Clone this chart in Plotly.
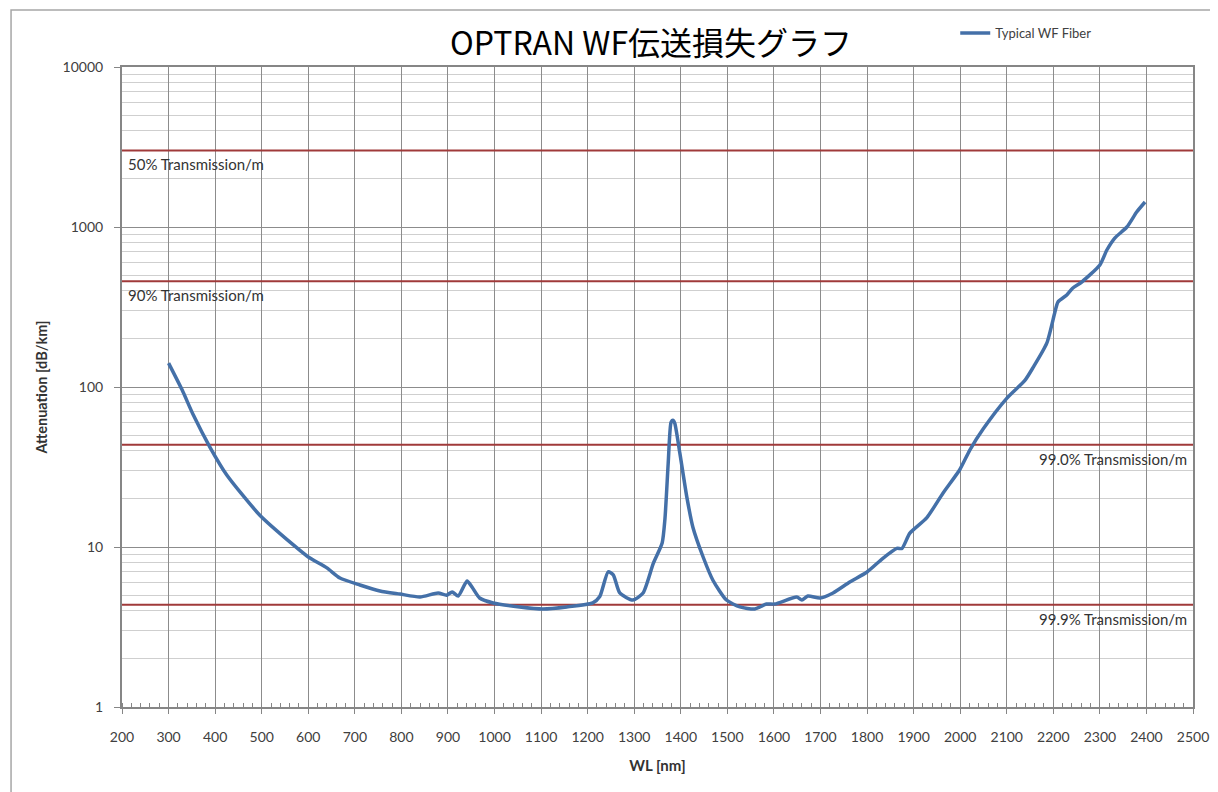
import math
import plotly.graph_objects as go

# ---- data ----
wavelength_nm = [300, 329, 353, 389, 425, 496, 568, 600, 640, 668, 711, 754, 797, 840,
                 879, 897, 909, 922, 941, 952, 968, 997, 1054, 1104, 1155, 1211, 1226,
                 1244, 1255, 1269, 1297, 1319, 1341, 1360, 1366, 1373, 1379, 1383, 1387,
                 1398, 1413, 1426, 1448, 1469, 1498, 1527, 1559, 1584, 1602, 1649, 1660,
                 1673, 1699, 1727, 1763, 1800, 1834, 1864, 1875, 1892, 1928, 1963, 1999,
                 2021, 2050, 2100, 2139, 2157, 2186, 2203, 2210, 2229, 2242, 2261, 2300,
                 2315, 2332, 2358, 2379, 2397]
attenuation_db_km = [141, 96, 67, 42, 28.2, 15.8, 10.3, 8.66, 7.4, 6.4, 5.79, 5.31, 5.08, 4.87,
                     5.16, 5.0, 5.24, 4.94, 6.13, 5.6, 4.8, 4.47, 4.22, 4.1, 4.22, 4.47, 4.9,
                     7.0, 6.7, 5.16, 4.66, 5.16, 7.9, 10.6, 15, 33.5, 60, 62, 59.5,
                     38.6, 20.5, 13.3, 8.66, 6.2, 4.66, 4.22, 4.1, 4.4, 4.4, 4.87, 4.66,
                     4.94, 4.8, 5.16, 6.04, 6.98, 8.5, 9.8, 9.8, 12.2, 15.2, 21.7, 30.4,
                     40.5, 55, 85, 110, 133, 188, 290, 340, 376, 416, 453, 579,
                     718, 853, 1000, 1240, 1433]

ref_levels_db_km = [3010, 458, 43.6, 4.35]
ref_labels = ["50% Transmission/m", "90% Transmission/m",
              "99.0% Transmission/m", "99.9% Transmission/m"]
ref_label_side = ["left", "left", "right", "right"]

x_ticks = list(range(200, 2501, 100))
y_ticks = [1, 10, 100, 1000, 10000]
y_tick_text = ["1", "10", "100", "1000", "10000"]

FONT = "Lato, 'Noto Sans CJK JP', sans-serif"
RED = "#A03A3A"
BLUE = "#4470A8"

fig = go.Figure()

# reference transmission lines
for lvl in ref_levels_db_km:
    fig.add_trace(go.Scatter(x=[200, 2500], y=[lvl, lvl], mode="lines",
                             line=dict(color=RED, width=2), showlegend=False,
                             hoverinfo="skip"))

fig.add_trace(go.Scatter(x=wavelength_nm, y=attenuation_db_km, mode="lines",
                         name="Typical WF Fiber",
                         line=dict(color=BLUE, width=3.5, shape="spline", smoothing=0.6)))

for lvl, txt, side in zip(ref_levels_db_km, ref_labels, ref_label_side):
    fig.add_annotation(x=200 if side == "left" else 2500, y=math.log10(lvl),
                       xref="x", yref="y", text=txt, showarrow=False,
                       xanchor=side, yanchor="top",
                       xshift=4 if side == "left" else -4, yshift=-3,
                       font=dict(family=FONT, size=15, color="#333333"))

# outer chart border (as in the source workbook)
fig.add_shape(type="rect", xref="paper", yref="paper",
              x0=-0.1036, x1=1.2, y0=-0.3, y1=1.089,
              line=dict(color="#A6A6A6", width=1.5), fillcolor="rgba(0,0,0,0)",
              layer="below")

fig.update_layout(
    width=1218, height=792,
    margin=dict(l=114, r=33, t=59, b=93, autoexpand=False),
    paper_bgcolor="white", plot_bgcolor="white",
    font=dict(family=FONT, color="#404040"),
    title=dict(text="OPTRAN WF伝送損失グラフ", x=0.528, xanchor="center",
               y=0.955, yanchor="middle",
               font=dict(family="'Noto Sans CJK JP', sans-serif", size=32, color="black")),
    legend=dict(x=0.778, y=1.053, xanchor="left", yanchor="middle",
                bgcolor="rgba(0,0,0,0)", font=dict(size=13, color="#404040"),
                itemwidth=30),
    showlegend=True,
)

fig.update_xaxes(
    range=[200, 2500], tickvals=x_ticks, automargin=False,
    showgrid=True, gridcolor="#8C8C8C", gridwidth=1.3,
    showline=True, linecolor="#868686", linewidth=2, mirror=True,
    ticks="outside", ticklen=5, tickcolor="#868686",
    ticklabelstandoff=11,
    tickfont=dict(family=FONT, size=14, color="#404040"),
    minor=dict(dtick=20, tick0=200, ticks="inside", ticklen=4, tickcolor="#868686",
               showgrid=False),
    title=dict(text="<b>WL [nm]</b>", font=dict(family=FONT, size=15, color="#333333"),
               standoff=17),
    zeroline=False,
)

fig.update_yaxes(
    type="log", range=[0, 4], tickvals=y_ticks, ticktext=y_tick_text, automargin=False,
    showgrid=True, gridcolor="#8C8C8C", gridwidth=1.3,
    showline=True, linecolor="#868686", linewidth=2, mirror=True,
    ticks="outside", ticklen=6, tickcolor="#868686",
    ticklabelstandoff=8,
    tickfont=dict(family=FONT, size=14, color="#404040"),
    minor=dict(dtick="D1", showgrid=True, gridcolor="#CFCFCF", gridwidth=1.3, ticks=""),
    title=dict(text="<b>Attenuation [dB/km]</b>",
               font=dict(family=FONT, size=14.5, color="#333333"), standoff=12),
    zeroline=False,
)

fig.write_html("out.html")
